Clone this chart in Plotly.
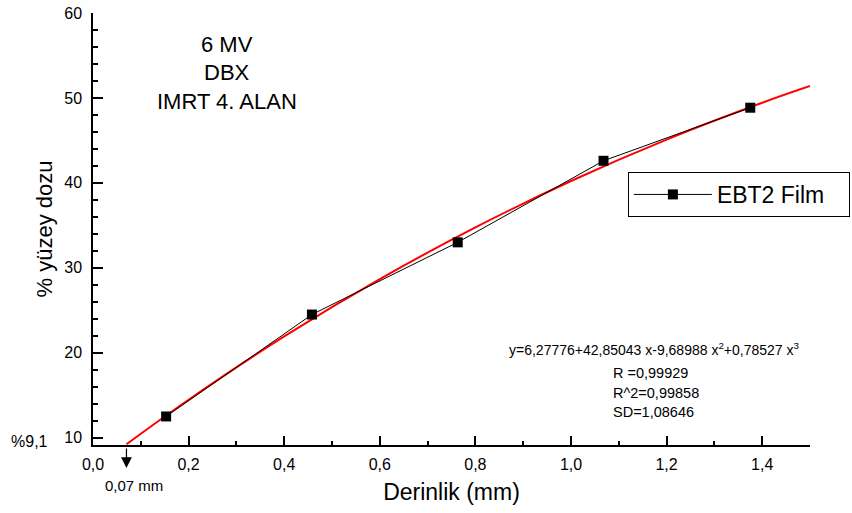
import plotly.graph_objects as go

# Measured data (EBT2 Film)
depth_mm = [0.153, 0.458, 0.763, 1.068, 1.375]
surface_dose = [12.5, 24.5, 33.0, 42.6, 48.85]

# Fit curve (red line)
fit_x = [0.07, 0.2, 0.4, 0.6, 0.8, 1.0, 1.2, 1.4, 1.5]
fit_y = [9.23, 14.47, 21.92, 28.67, 34.76, 40.22, 45.10, 49.43, 51.40]

x_ticks = [0.0, 0.2, 0.4, 0.6, 0.8, 1.0, 1.2, 1.4]
y_ticks = [10, 20, 30, 40, 50, 60]

FONT = "Liberation Sans, Arial, sans-serif"
NB = "\u00a0"

fig = go.Figure()
fig.add_trace(go.Scatter(
    x=fit_x, y=fit_y, mode="lines", line=dict(color="#ff0000", width=2, shape="spline"),
    showlegend=False, hoverinfo="skip"))
fig.add_trace(go.Scatter(
    x=depth_mm, y=surface_dose, mode="lines+markers", name="EBT2 Film" + NB * 3,
    line=dict(color="black", width=1),
    marker=dict(symbol="square", size=10, color="black")))

fig.update_layout(
    width=852, height=513,
    margin=dict(l=93, r=42, t=13, b=68, autoexpand=False),
    paper_bgcolor="white", plot_bgcolor="white",
    separators=", ",
    font=dict(family=FONT, color="black"),
    legend=dict(x=0.746, y=0.632, xanchor="left", yanchor="top",
                bordercolor="black", borderwidth=1, bgcolor="white",
                font=dict(size=23, family=FONT), itemwidth=78),
    xaxis=dict(range=[0, 1.5], tickvals=x_ticks, tickformat=".1f", automargin=False,
               showline=True, linecolor="black", linewidth=1.5,
               ticks="inside", ticklen=9, tickwidth=1.5, tickcolor="black",
               minor=dict(dtick=0.1, ticks="inside", ticklen=4, tickwidth=1.5, tickcolor="black", showgrid=False),
               showgrid=False, zeroline=False,
               tickfont=dict(size=16), ticklabelstandoff=4,
               title=dict(text="Derinlik (mm)", font=dict(size=23), standoff=12)),
    yaxis=dict(range=[9.14, 60], tickvals=y_ticks, automargin=False,
               showline=True, linecolor="black", linewidth=1.5,
               ticks="inside", ticklen=10, tickwidth=1.5, tickcolor="black",
               minor=dict(dtick=2, tick0=0, ticks="inside", ticklen=5, tickwidth=1.5, tickcolor="black", showgrid=False),
               showgrid=False, zeroline=False,
               tickfont=dict(size=16), ticklabelstandoff=6,
               title=dict(text="% yüzey dozu", font=dict(size=22), standoff=6)),
)

ann = []
for txt, yy in [("6 MV", 44), ("DBX", 72), ("IMRT 4. ALAN", 101)]:
    ann.append(dict(text=txt, x=227, y=yy, showarrow=False, font=dict(size=22)))
eq = "y=6,27776+42,85043 x-9,68988 x<sup>2</sup>+0,78527 x<sup>3</sup>"
ann.append(dict(text=eq, x=654, y=349, showarrow=False, font=dict(size=14)))
for txt, yy in [("R =0,99929", 373), ("R^2=0,99858", 393), ("SD=1,08646", 412)]:
    ann.append(dict(text=txt, x=611, y=yy, xanchor="left", showarrow=False, font=dict(size=14.5)))
ann.append(dict(text="%9,1", x=29, y=441, showarrow=False, font=dict(size=16)))
ann.append(dict(text="0,07 mm", x=134, y=485, showarrow=False, font=dict(size=15)))

# convert pixel positions to paper coordinates
W, H = 852, 513
L, R, T, B = 93, 42, 13, 68
pw, ph = W - L - R, H - T - B
for a in ann:
    px, py = a["x"], a["y"]
    a["x"] = (px - L) / pw
    a["y"] = (H - B - py) / ph
    a["xref"] = "paper"
    a["yref"] = "paper"
    a.setdefault("yanchor", "middle")
    if "xanchor" not in a:
        a["xanchor"] = "center"

# arrow pointing down at x = 0.07
ann.append(dict(x=0.07, xref="x", y=(H - B - 468) / ph, yref="paper",
                ax=0, ay=-21, showarrow=True, arrowhead=2, arrowsize=1.8,
                arrowwidth=1.2, arrowcolor="black", text=""))

fig.update_layout(annotations=ann)
fig.write_html("out.html")
